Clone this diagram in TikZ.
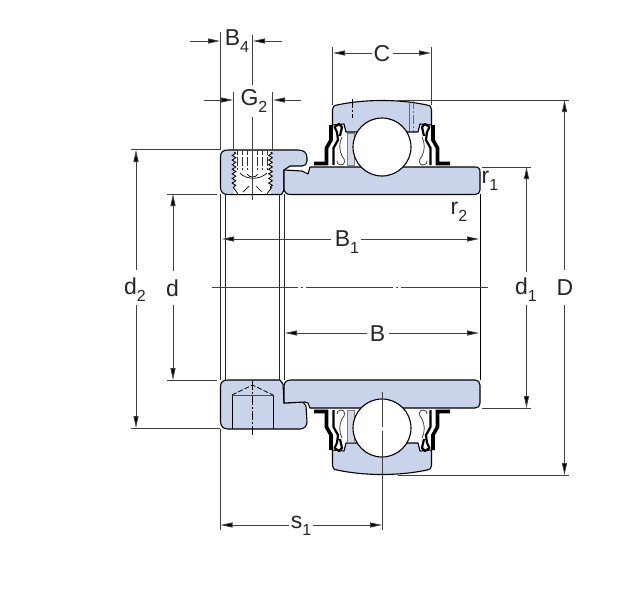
\documentclass[tikz,border=0pt]{standalone}
\usepackage{fontspec}
\setmainfont{Liberation Sans}
\usetikzlibrary{arrows.meta,decorations.pathmorphing}
\definecolor{partblue}{HTML}{C9D3EA}
\definecolor{cagegrey}{HTML}{D4D9E6}
\definecolor{dimgrey}{HTML}{404040}
\newcommand\lb[2]{#1\raisebox{-0.3em}{\fontsize{16}{16}\selectfont #2}}
\tikzset{
  part/.style={draw=black,line width=1.1pt,fill=partblue,line join=round},
  thinpart/.style={draw=black!85,line width=0.8pt},
  ext/.style={draw=dimgrey,line width=0.75pt},
  dimarrow/.style={draw=dimgrey,line width=0.8pt,-{Triangle[length=12pt,width=5pt,fill=black]}},
  lab/.style={font=\fontsize{23}{26}\selectfont,inner sep=0pt,text=black!85},
  sealthick/.style={draw=black,line width=3.6pt,line join=miter},
  sealmid/.style={draw=black,line width=2.2pt,line join=round},
  sealthin/.style={draw=black!75,line width=0.8pt},
  hidden/.style={draw=black,line width=0.8pt,dash pattern=on 9pt off 2pt on 2pt off 2pt},
  ballstyle/.style={draw=black,line width=1.1pt,fill=white},
}
\newcommand\sealhalf{%
  \draw[sealthick] (314,163.5) -- (326.5,163.5) -- (326.5,148) -- (331,140) -- (331,125);
  \draw[sealmid] (333.5,165) -- (333.5,148) -- (338,140) -- (337,132) -- (334.5,127) -- (339,124) -- (342,127) -- (340,136);
  \draw[sealthin] (342,137) .. controls (339,143) and (339,150) .. (342,156) .. controls (346,160) and (345,165) .. (341,165) .. controls (338,165) and (337,163) .. (337,161);
}
\newcommand\bearing{%
  \path[part] (332.5,125) -- (332.5,110) .. controls (332.5,107) and (333.5,105.5) .. (337,105)
     .. controls (365,99) and (399,99) .. (427,105)
     .. controls (430.5,105.5) and (431.5,107) .. (431.5,110) -- (431.5,125)
     -- (420,124) -- (418,132) -- (346,132) -- (344,124) -- cycle;
  \filldraw[draw=black!50,line width=0.6pt,fill=cagegrey] (347,133) -- (354,133) -- (354,165) -- (347,165) -- cycle;
  \sealhalf
  \begin{scope}[cm={-1,0,0,1,(764pt,0pt)}]\sealhalf\end{scope}
}
\begin{document}
\begin{tikzpicture}[x=1pt,y=-1pt]
\useasboundingbox (0,0) rectangle (641,590);
\fill[white] (0,0) rectangle (641,590);

% bearings
\bearing
\begin{scope}[cm={1,0,0,-1,(0pt,-575pt)}]\bearing\end{scope}

% upper collar
\path[part] (220.5,157) .. controls (220.5,152) and (223,150) .. (228,150) -- (298,150)
  .. controls (304,150) and (307,153) .. (307,158) -- (307,161)
  .. controls (307,164) and (305,166) .. (302,166) -- (290,166) -- (284,170) -- (284,190) -- (281.5,194.5)
  -- (228,194.5) .. controls (223,194.5) and (220.5,192) .. (220.5,187) -- cycle;
% upper ring
\path[part] (284,170) -- (302,171) -- (308,174) -- (310,167) -- (475,167)
  .. controls (478.5,167) and (480,168.5) .. (480,172) -- (480,190)
  .. controls (480,193) and (478,194.5) .. (475,194.5) -- (291,194.5)
  .. controls (286,194.5) and (284,192) .. (284,188) -- cycle;
% lower collar
\path[part] (220.5,387) .. controls (220.5,382) and (223,380) .. (228,380) -- (280,380) -- (283,384) -- (284,403)
  -- (303,402) -- (306,406) -- (307,422) .. controls (307,426) and (304,429) .. (300,429)
  -- (228,429) .. controls (223,429) and (220.5,426) .. (220.5,421) -- cycle;
% lower ring
\path[part] (291,380) -- (475,380) .. controls (478,380) and (480,382) .. (480,385) -- (480,403)
  .. controls (480,406) and (478,408) .. (475,408) -- (315,408) -- (310,408) -- (308,403) -- (305,402) -- (284,403) -- (284,386)
  .. controls (284,382) and (287,380) .. (291,380) -- cycle;

% balls, over both rings
\path[ballstyle] (382,147) circle[radius=29];
\path[ballstyle] (382,428) circle[radius=29];

% bore lines
\draw[thinpart] (220.5,194) -- (220.5,380) (225,194.5) -- (225,380) (279,194.5) -- (279,380) (284,194) -- (284,380);
\draw[thinpart,line width=1pt,black] (480,194) -- (480,380);

% set screw, upper collar
\fill[white] (234,150.8) rectangle (270.5,193.8);
\draw[line width=0.9pt,decorate,decoration={zigzag,amplitude=1.8pt,segment length=4.6pt}] (234,152) -- (234,188);
\draw[line width=0.9pt,decorate,decoration={zigzag,amplitude=1.8pt,segment length=4.6pt}] (270.5,152) -- (270.5,188);
\draw[line width=0.8pt] (233,187) -- (238,194) (272,187) -- (267,194);
\foreach \sx in {237,242,247,257,262,267}
  \draw[line width=0.7pt,black!80,dash pattern=on 4pt off 2pt on 9pt off 2pt] (\sx,151) -- (\sx,170);
\draw[line width=0.7pt] (240,173) .. controls (246,180) and (260,180) .. (267,173);
\draw[line width=0.7pt] (247,174) .. controls (249,178) and (256,178) .. (258,174);
\draw[line width=0.7pt] (243,192) -- (249,186) (262,192) -- (256,186);

% screw hole, lower collar
\draw[line width=0.8pt] (232,395) -- (232,429) (273,395) -- (273,429);
\draw[hidden,dash pattern=on 5pt off 2pt] (232,395) -- (252.5,385) -- (273,395);
\draw[line width=0.5pt,black!70] (232,395) -- (273,395);
\coordinate (scrA) at (252.5,381);
\coordinate (scrB) at (252.5,437);
\draw[hidden] (scrA) -- (scrB);

% outer ring centre lines (top only)
\draw[hidden,line width=0.6pt] (352,99) -- (352,118);
\draw[line width=0.5pt,black!60] (409,100) -- (409,131);
\draw[hidden,line width=0.5pt,black!60] (413,100) -- (413,131);

% lower ball centre line
\coordinate (ballA) at (382,392);
\coordinate (ballB) at (382,427);
\coordinate (ballC) at (382,431);
\coordinate (ballD) at (382,530);
\draw[ext] (ballA) -- (ballB) (ballC) -- (ballD);

% centre line
\draw[ext] (212,287) -- (298,287) (301,287) -- (303,287) (306,287) -- (393,287) (396,287) -- (398,287) (401,287) -- (488,287);

% labels
\node[lab] (nB4) at (237,41.5) {\lb{B}{4}};
\node[lab] (nG2) at (254,101) {\lb{G}{2}};
\node[lab] (nC) at (382,54) {C};
\node[lab] (nD) at (565,288) {D};
\node[lab] (nd1) at (526,290) {\lb{d}{1}};
\node[lab] (nd2) at (135,290) {\lb{d}{2}};
\node[lab] (nd) at (172.5,288) {d};
\node[lab] (nB1) at (347,242) {\lb{B}{1}};
\node[lab] (nB) at (377.5,334) {B};
\node[lab] (ns1) at (301,526) {\lb{s}{1}};
\node[lab] (nr1) at (490,181) {\lb{r}{1}};
\node[lab] (nr2) at (459,212) {\lb{r}{2}};

% extension lines
\draw[ext] (220.5,32) -- (220.5,150);
\draw[ext] (252.5,35) -- (252.5,85);
\draw[ext] (252.5,117) -- (252.5,200);
\draw[ext] (233.5,92) -- (233.5,150);
\draw[ext] (272.5,92) -- (272.5,150);
\draw[ext] (332.5,47) -- (332.5,105);
\draw[ext] (431.5,47) -- (431.5,105);
\draw[ext] (398,100) -- (569,100);
\draw[ext] (398,475) -- (569,475);
\draw[ext] (482,167) -- (531,167);
\draw[ext] (482,408) -- (531,408);
\draw[ext] (131,149.5) -- (220,149.5);
\draw[ext] (131,428.5) -- (220,428.5);
\draw[ext] (167,194) -- (217,194);
\draw[ext] (167,380) -- (217,380);
\draw[ext] (220.5,429) -- (220.5,530);

% dimension arrows
\coordinate (b4a) at (190,41); \coordinate (b4b) at (220,41);
\coordinate (b4c) at (282,41); \coordinate (b4d) at (253,41);
\draw[dimarrow] (b4a) -- (b4b);
\draw[dimarrow] (b4c) -- (b4d);
\coordinate (g2a) at (204,100); \coordinate (g2b) at (233,100);
\coordinate (g2c) at (301,100); \coordinate (g2d) at (273,100);
\draw[dimarrow] (g2a) -- (g2b);
\draw[dimarrow] (g2c) -- (g2d);
\coordinate (ca) at (333,53); \coordinate (cb) at (431,53);
\coordinate (ca0) at (372,53); \coordinate (cb0) at (393,53);
\draw[dimarrow] (ca0) -- (ca);
\draw[dimarrow] (cb0) -- (cb);
\coordinate (Da) at (564.5,100); \coordinate (Db) at (564.5,475);
\draw[dimarrow] (564.5,270) -- (Da);
\draw[dimarrow] (564.5,305) -- (Db);
\coordinate (d1a) at (526.5,167); \coordinate (d1b) at (526.5,408);
\draw[dimarrow] (526.5,272) -- (d1a);
\draw[dimarrow] (526.5,305) -- (d1b);
\coordinate (d2a) at (136,150); \coordinate (d2b) at (136,428);
\draw[dimarrow] (136,270) -- (d2a);
\draw[dimarrow] (136,305) -- (d2b);
\coordinate (da) at (173,194); \coordinate (db) at (173,380);
\draw[dimarrow] (173,271) -- (da);
\draw[dimarrow] (173,305) -- (db);
\coordinate (b1a) at (222,239); \coordinate (b1b) at (479,239);
\draw[dimarrow] (331,239) -- (b1a);
\draw[dimarrow] (361,239) -- (b1b);
\coordinate (ba) at (285,333); \coordinate (bb) at (479,333);
\draw[dimarrow] (367,333) -- (ba);
\draw[dimarrow] (389,333) -- (bb);
\coordinate (s1a) at (220.5,525); \coordinate (s1b) at (382,525);
\draw[dimarrow] (289,525) -- (s1a);
\draw[dimarrow] (313,525) -- (s1b);
\end{tikzpicture}
\end{document}
